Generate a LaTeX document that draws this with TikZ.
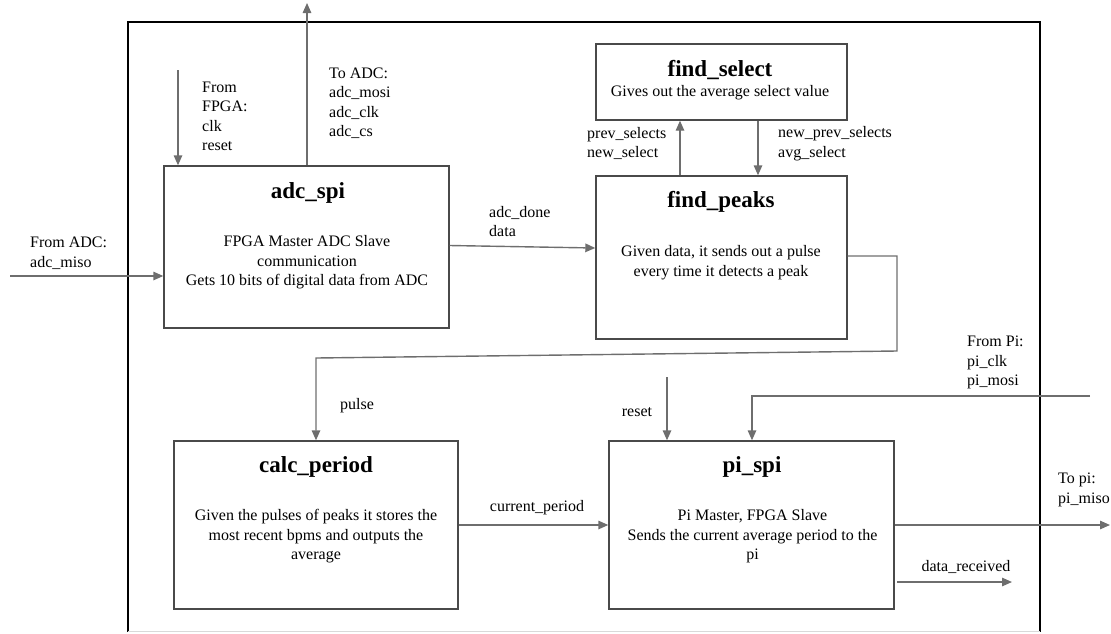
\documentclass[tikz,border=0pt]{standalone}
\usepackage{fontspec}
\setmainfont{Liberation Serif}
\usetikzlibrary{arrows.meta}
\definecolor{boxline}{HTML}{4A4A4A}
\definecolor{wire}{HTML}{6E6E6E}
\begin{document}
\begin{tikzpicture}[x=1pt,y=-1pt,
  every node/.style={font=\fontsize{16}{19.5}\selectfont, inner sep=0pt},
  blk/.style={draw=boxline, line width=1.4pt, rectangle},
  ttl/.style={font=\fontsize{23}{27}\selectfont\bfseries},
  body/.style={align=center},
  lbl/.style={align=left, anchor=west},
  wirepath/.style={draw=wire, line width=1.4pt},
  arr/.style={wirepath, -{Triangle[length=10pt,width=8.5pt]}, color=wire}
]
\useasboundingbox (0,0) rectangle (1111,633);

% chip boundary
\draw[black, line width=2.8pt] (128,632) -- (128,22) -- (1040,22) -- (1040,632);
\draw[black!15, line width=0.8pt] (128,631.5) -- (1040,631.5);

% blocks
\node[blk, minimum width=285, minimum height=162] (adc) at (306.5,247) {};
\node[ttl] (adct) at (308,193) {adc\_spi};
\node[body] (adcb) at (307,262.5) {FPGA Master ADC Slave\\communication\\Gets 10 bits of digital data from ADC};

\node[blk, minimum width=251, minimum height=76] (sel) at (721.5,82) {};
\node[ttl] (selt) at (720,70) {find\_select};
\node[body] (selb) at (720,93) {Gives out the average select value};

\node[blk, minimum width=251, minimum height=163] (peaks) at (721.5,257.5) {};
\node[ttl] (peakst) at (721,202) {find\_peaks};
\node[body] (peaksb) at (721,262.5) {Given data, it sends out a pulse\\every time it detects a peak};

\node[blk, minimum width=284, minimum height=168] (calc) at (316,525) {};
\node[ttl] (calct) at (316,467) {calc\_period};
\node[body] (calcb) at (316,536.5) {Given the pulses of peaks it stores the\\most recent bpms and outputs the\\average};

\node[blk, minimum width=285, minimum height=168] (pi) at (751.5,525) {};
\node[ttl] (pit) at (752,467) {pi\_spi};
\node[body] (pib) at (752.5,536.5) {Pi Master, FPGA Slave\\Sends the current average period to the\\pi};

% free ends of connectors
\coordinate (adcout) at (307,3);
\coordinate (fpgain) at (178,70);
\coordinate (adcin) at (10,276);
\coordinate (upx) at (680,0);
\coordinate (downx) at (758,0);
\coordinate (pr1) at (897,256);
\coordinate (pr2) at (897,351);
\coordinate (pl) at (316,358);
\coordinate (resetin) at (667,377);
\coordinate (piin) at (1090,396);
\coordinate (pibend) at (752,396);
\coordinate (piout) at (1110,525);
\coordinate (drs) at (897,582);
\coordinate (dre) at (1012,582);

% connectors
\draw[arr] (adcout |- adc.north) -- (adcout);
\draw[arr] (fpgain) -- (fpgain |- adc.north);
\draw[arr] (adcin) -- (adcin -| adc.west);
\draw[arr] ([yshift=1.5pt]adc.east) -- ([yshift=9.5pt]peaks.west);
\draw[arr] (upx |- peaks.north) -- (upx |- sel.south);
\draw[arr] (downx |- sel.south) -- (downx |- peaks.north);
\draw[arr] ([yshift=1.5pt]peaks.east) -- (pr1) -- (pr2) -- (pl) -- (calc.north);
\draw[arr] (calc.east) -- (pi.west);
\draw[arr] (resetin) -- (resetin |- pi.north);
\draw[arr] (piin) -- (pibend) -- (pibend |- pi.north);
\draw[arr] (pi.east) -- (piout);
\draw[arr] (drs) -- (dre);

% signal labels
\node[lbl] (l1) at (202,116.5) {From\\FPGA:\\clk\\reset};
\node[lbl] (l2) at (329,103) {To ADC:\\adc\_mosi\\adc\_clk\\adc\_cs};
\node[lbl] (l3) at (30,253) {From ADC:\\adc\_miso};
\node[lbl] (l4) at (489,221.5) {adc\_done\\data};
\node[lbl] (l5) at (587,143.5) {prev\_selects\\new\_select};
\node[lbl] (l6) at (778,143.5) {new\_prev\_selects\\avg\_select};
\node (l7) at (357,406) {pulse};
\node (l8) at (537,508) {current\_period};
\node (l9) at (637,412) {reset};
\node[lbl] (l10) at (967,362.5) {From Pi:\\pi\_clk\\pi\_mosi};
\node[lbl] (l11) at (1058,490) {To pi:\\pi\_miso};
\node (l12) at (966,567) {data\_received};
\end{tikzpicture}
\end{document}
